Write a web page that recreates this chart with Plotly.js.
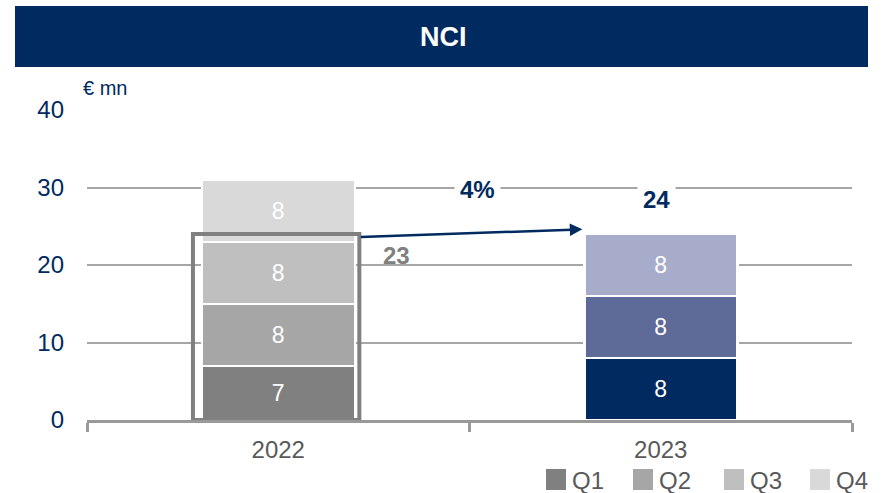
<!DOCTYPE html>
<html><head><meta charset="utf-8">
<script src="https://cdn.plot.ly/plotly-3.0.1.min.js"></script>
<style>
html, body { margin: 0; padding: 0; background: #fff; }
#chart { width: 883px; height: 493px; }
</style></head><body>
<div id="chart"></div>
<script>
// NCI by quarter, € mn
const years = ['2022', '2023'];
const quarters = ['Q1', 'Q2', 'Q3', 'Q4'];
const q1 = [7, 8];
const q2 = [8, 8];
const q3 = [8, 8];
const q4 = [8, null];
const ytdPrev = 23;   // 2022 Q1-Q3
const ytdCurr = 24;   // 2023 Q1-Q3
const growth = '4%';

const navy = '#002A60';
const greys = ['#808080', '#A6A6A6', '#BFBFBF', '#D9D9D9'];
const blues = ['#002A60', '#5E6A97', '#A8ACCB', '#D0D3E4'];
const FONT = 'Liberation Sans, Arial, sans-serif';
const NARROW = 'Liberation Sans Narrow, Liberation Sans, Arial, sans-serif';

// plot area in pixels: x 87..852, y 110..420
const px = p => (p - 87) / 765;
const py = p => (420 - p) / 310;

const series = [q1, q2, q3, q4];
const traces = series.map((vals, i) => ({
    type: 'bar',
    name: quarters[i],
    x: years,
    y: vals,
    width: 0.4,
    marker: { color: [greys[i], blues[i]], line: { color: '#fff', width: 2.5 } },
    texttemplate: '%{y}',
    textposition: 'inside',
    insidetextanchor: 'middle',
    textangle: 0,
    textfont: { color: '#fff', size: 23, family: FONT },
    hoverinfo: 'skip',
    showlegend: false,
}));

// hand-placed legend (grey palette, as in the source slide)
const legendX = [546, 633, 724, 810];
const legendShapes = quarters.map((q, i) => ({
    type: 'rect', xref: 'paper', yref: 'paper',
    x0: px(legendX[i]), x1: px(legendX[i] + 20), y0: py(490), y1: py(469),
    fillcolor: greys[i], line: { width: 0 },
}));
const legendLabels = quarters.map((q, i) => ({
    text: q, xref: 'paper', yref: 'paper', x: px(legendX[i] + 24), y: py(480),
    xanchor: 'left', yanchor: 'middle', showarrow: false,
    font: { family: NARROW, size: 24, color: '#595959' },
}));

const layout = {
    width: 883, height: 493,
    margin: { l: 87, r: 31, t: 110, b: 73 },
    barmode: 'stack',
    paper_bgcolor: '#fff', plot_bgcolor: '#fff',
    font: { family: FONT },
    showlegend: false,
    xaxis: {
        type: 'category', range: [-0.5, 1.5],
        showline: true, linecolor: '#999999', linewidth: 3,
        ticks: 'outside', tickson: 'boundaries', ticklen: 9, tickwidth: 3, tickcolor: '#999999',
        tickfont: { family: NARROW, size: 24, color: '#595959' },
        ticklabelstandoff: 6,
        showgrid: false, zeroline: false, fixedrange: true,
    },
    yaxis: {
        range: [0, 40], dtick: 10, tick0: 0,
        showgrid: true, gridcolor: '#A6A6A6', gridwidth: 2,
        zeroline: false, showline: false, ticks: '',
        tickfont: { family: FONT, size: 24, color: navy },
        ticklabelstandoff: 22,
        fixedrange: true,
    },
    shapes: [
        // title band
        { type: 'rect', xref: 'paper', yref: 'paper', layer: 'above',
          x0: px(15), x1: px(868), y0: py(67), y1: py(6),
          fillcolor: navy, line: { width: 0 } },
        // outline around 2022 comparable period
        { type: 'rect', xref: 'x', yref: 'y', layer: 'above',
          x0: -0.223, x1: 0.212, y0: 0, y1: ytdPrev + 1,
          fillcolor: 'rgba(0,0,0,0)', line: { color: '#808080', width: 4 } },
        ...legendShapes,
    ],
    annotations: [
        { text: '<b>NCI</b>', xref: 'paper', yref: 'paper', x: px(443), y: py(37),
          xanchor: 'center', yanchor: 'middle',
          showarrow: false, font: { family: FONT, size: 27, color: '#fff' } },
        { text: '€ mn', xref: 'paper', yref: 'paper', x: px(81), y: py(88),
          xanchor: 'left', yanchor: 'middle', showarrow: false,
          font: { family: FONT, size: 20, color: navy } },
        // growth arrow
        { x: 0.795, y: ytdCurr + 0.6, ax: 0.212, ay: ytdPrev + 0.6, xref: 'x', yref: 'y',
          axref: 'x', ayref: 'y', text: '', showarrow: true,
          arrowhead: 2, arrowsize: 1, arrowwidth: 2.5, arrowcolor: navy },
        { text: '<b>' + growth + '</b>', x: 0.522, y: 29.8, xref: 'x', yref: 'y',
          xanchor: 'center', yanchor: 'middle',
          showarrow: false, bgcolor: '#fff', borderpad: 5,
          font: { family: FONT, size: 24, color: navy } },
        { text: '<b>' + ytdCurr + '</b>', x: 0.99, y: 28.4, xref: 'x', yref: 'y',
          xanchor: 'center', yanchor: 'middle',
          showarrow: false, bgcolor: '#fff', borderpad: 5,
          font: { family: FONT, size: 24, color: navy } },
        { text: '<b>' + ytdPrev + '</b>', x: 0.31, y: 21.2, xref: 'x', yref: 'y',
          xanchor: 'center', yanchor: 'middle',
          showarrow: false,
          font: { family: FONT, size: 24, color: '#808080' } },
        ...legendLabels,
    ],
};

Plotly.newPlot('chart', traces, layout, { displayModeBar: false, staticPlot: true });
</script>
</body></html>
